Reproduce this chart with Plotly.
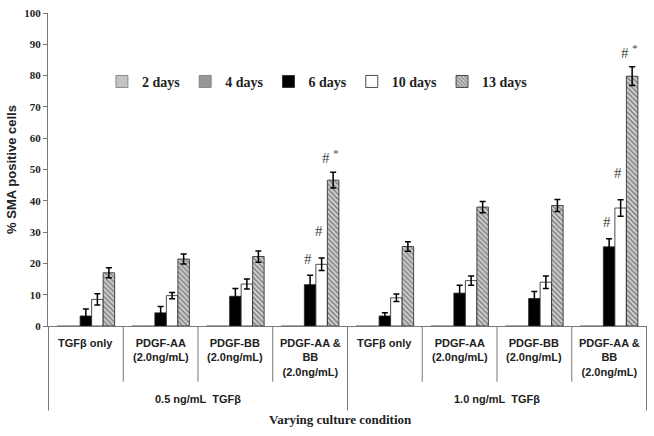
import plotly.graph_objects as go

# ---------------- data ----------------
inner_labels = ["TGFβ only", "PDGF-AA<br>(2.0ng/mL)", "PDGF-BB<br>(2.0ng/mL)",
                "PDGF-AA &<br>BB<br>(2.0ng/mL)"]
outer_labels = ["0.5 ng/mL  TGFβ", "1.0 ng/mL  TGFβ"]
categories = [f"{o}|{i}" for o in outer_labels for i in inner_labels]

series_names = ["2 days", "4 days", "6 days", "10 days", "13 days"]
vals_2d = [0, 0, 0, 0, 0, 0, 0, 0]
vals_4d = [0, 0, 0, 0, 0, 0, 0, 0]
vals_6d = [3.2, 4.2, 9.5, 13.2, 3.2, 10.5, 8.8, 25.3]
vals_10d = [8.5, 9.7, 13.4, 19.7, 9.0, 14.5, 14.0, 37.7]
vals_13d = [17.0, 21.4, 22.2, 46.6, 25.4, 38.0, 38.5, 79.8]
err_6d = [2.2, 2.0, 2.5, 3.0, 1.0, 2.5, 2.2, 2.6]
err_10d = [1.8, 1.0, 1.6, 2.0, 1.2, 1.5, 2.0, 2.6]
err_13d = [1.6, 1.6, 1.8, 2.5, 1.5, 1.8, 1.9, 3.0]

# significance marks: (group index, series name, text)
sig_marks = [(3, "6 days", "#"), (3, "10 days", "#"), (3, "13 days", "# <sup>*</sup>"),
             (7, "6 days", "#"), (7, "10 days", "#"), (7, "13 days", "# <sup>*</sup>")]

# ---------------- style ----------------
values = {"2 days": vals_2d, "4 days": vals_4d, "6 days": vals_6d,
          "10 days": vals_10d, "13 days": vals_13d}
errors = {"6 days": err_6d, "10 days": err_10d, "13 days": err_13d}
colors = {"2 days": "#c4c4c4", "4 days": "#979797", "6 days": "#000000",
          "10 days": "#ffffff", "13 days": "#d0d0d0"}
sig_offset = {"6 days": 5.3, "10 days": 8.5, "13 days": 4.8}
serif = "Times New Roman, Liberation Serif, serif"

fig = go.Figure()
for name in series_names:
    edge = "#222222" if name not in ("2 days", "4 days") else "#777777"
    marker = dict(color=colors[name], line=dict(color=edge, width=0.8))
    if name == "13 days":
        marker["pattern"] = dict(shape="\\", fgcolor="#333333", bgcolor="#d4d4d4",
                                 size=3.5, solidity=0.45)
    err = errors.get(name)
    fig.add_trace(go.Bar(
        x=categories, y=values[name], name=name, marker=marker,
        error_y=dict(type="data", array=err, visible=err is not None,
                     color="#000000", thickness=1.5, width=3),
    ))

bargap = 0.23
nser = len(series_names)
bw = (1 - bargap) / nser

annotations = []
shapes = []
label_font = dict(family="Arial", size=11, color="#222222", weight="bold")

for g, s, txt in sig_marks:
    k = series_names.index(s)
    xpos = g + (k - (nser - 1) / 2) * bw - 0.03
    ypos = values[s][g] + errors[s][g] + sig_offset[s]
    annotations.append(dict(x=xpos, y=ypos, xref="x", yref="y", text=txt,
                            showarrow=False, font=dict(family=serif, size=15, color="#444444")))

for idx, cat in enumerate(categories):
    inner = cat.split("|")[1]
    annotations.append(dict(x=idx, y=-0.03, xref="x", yref="paper", yanchor="top",
                            text=inner, showarrow=False, font=label_font))

n_in = len(inner_labels)
for oi, o in enumerate(outer_labels):
    annotations.append(dict(x=oi * n_in + (n_in - 1) / 2, y=-0.234, xref="x", yref="paper",
                            yanchor="middle", text=o, showarrow=False, font=label_font))

annotations.append(dict(x=3.4, y=-0.30, xref="x", yref="paper", yanchor="middle",
                        text="Varying culture condition", showarrow=False,
                        font=dict(family=serif, size=13, color="#222222", weight="bold")))

ncat = len(categories)
for b in range(ncat + 1):
    xb = b - 0.5
    long = (b % n_in == 0)
    shapes.append(dict(type="line", xref="x", yref="paper", x0=xb, x1=xb,
                       y0=0, y1=-0.27 if long else -0.178,
                       line=dict(color="#777777", width=1)))

fig.update_layout(
    width=654, height=436,
    margin=dict(l=48, r=7, t=10, b=110),
    paper_bgcolor="white", plot_bgcolor="white",
    barmode="group", bargap=bargap, bargroupgap=0,
    showlegend=True,
    legend=dict(orientation="h", x=0.09, y=0.78, xanchor="left", yanchor="middle",
                font=dict(family=serif, size=14, color="#222222", weight="bold"),
                itemwidth=30, traceorder="normal", tracegroupgap=0,
                bgcolor="rgba(0,0,0,0)"),
    annotations=annotations, shapes=shapes,
    font=dict(family="Arial", color="#222222"),
)
fig.update_xaxes(showticklabels=False, showline=True, linecolor="#777777", linewidth=1,
                 ticks="", showgrid=False, zeroline=False)
fig.update_yaxes(range=[0, 100], dtick=10, showgrid=False, zeroline=False,
                 showline=True, linecolor="#777777", linewidth=1,
                 ticks="outside", ticklen=4, tickcolor="#777777",
                 tickfont=dict(family=serif, size=11, color="#222222", weight="bold"),
                 title=dict(text="% SMA positive cells", standoff=4,
                            font=dict(family="Arial", size=13, color="#222222", weight="bold")))

fig.write_html("out.html", config={"displayModeBar": False},
               post_script="document.body.style.margin='0';")
